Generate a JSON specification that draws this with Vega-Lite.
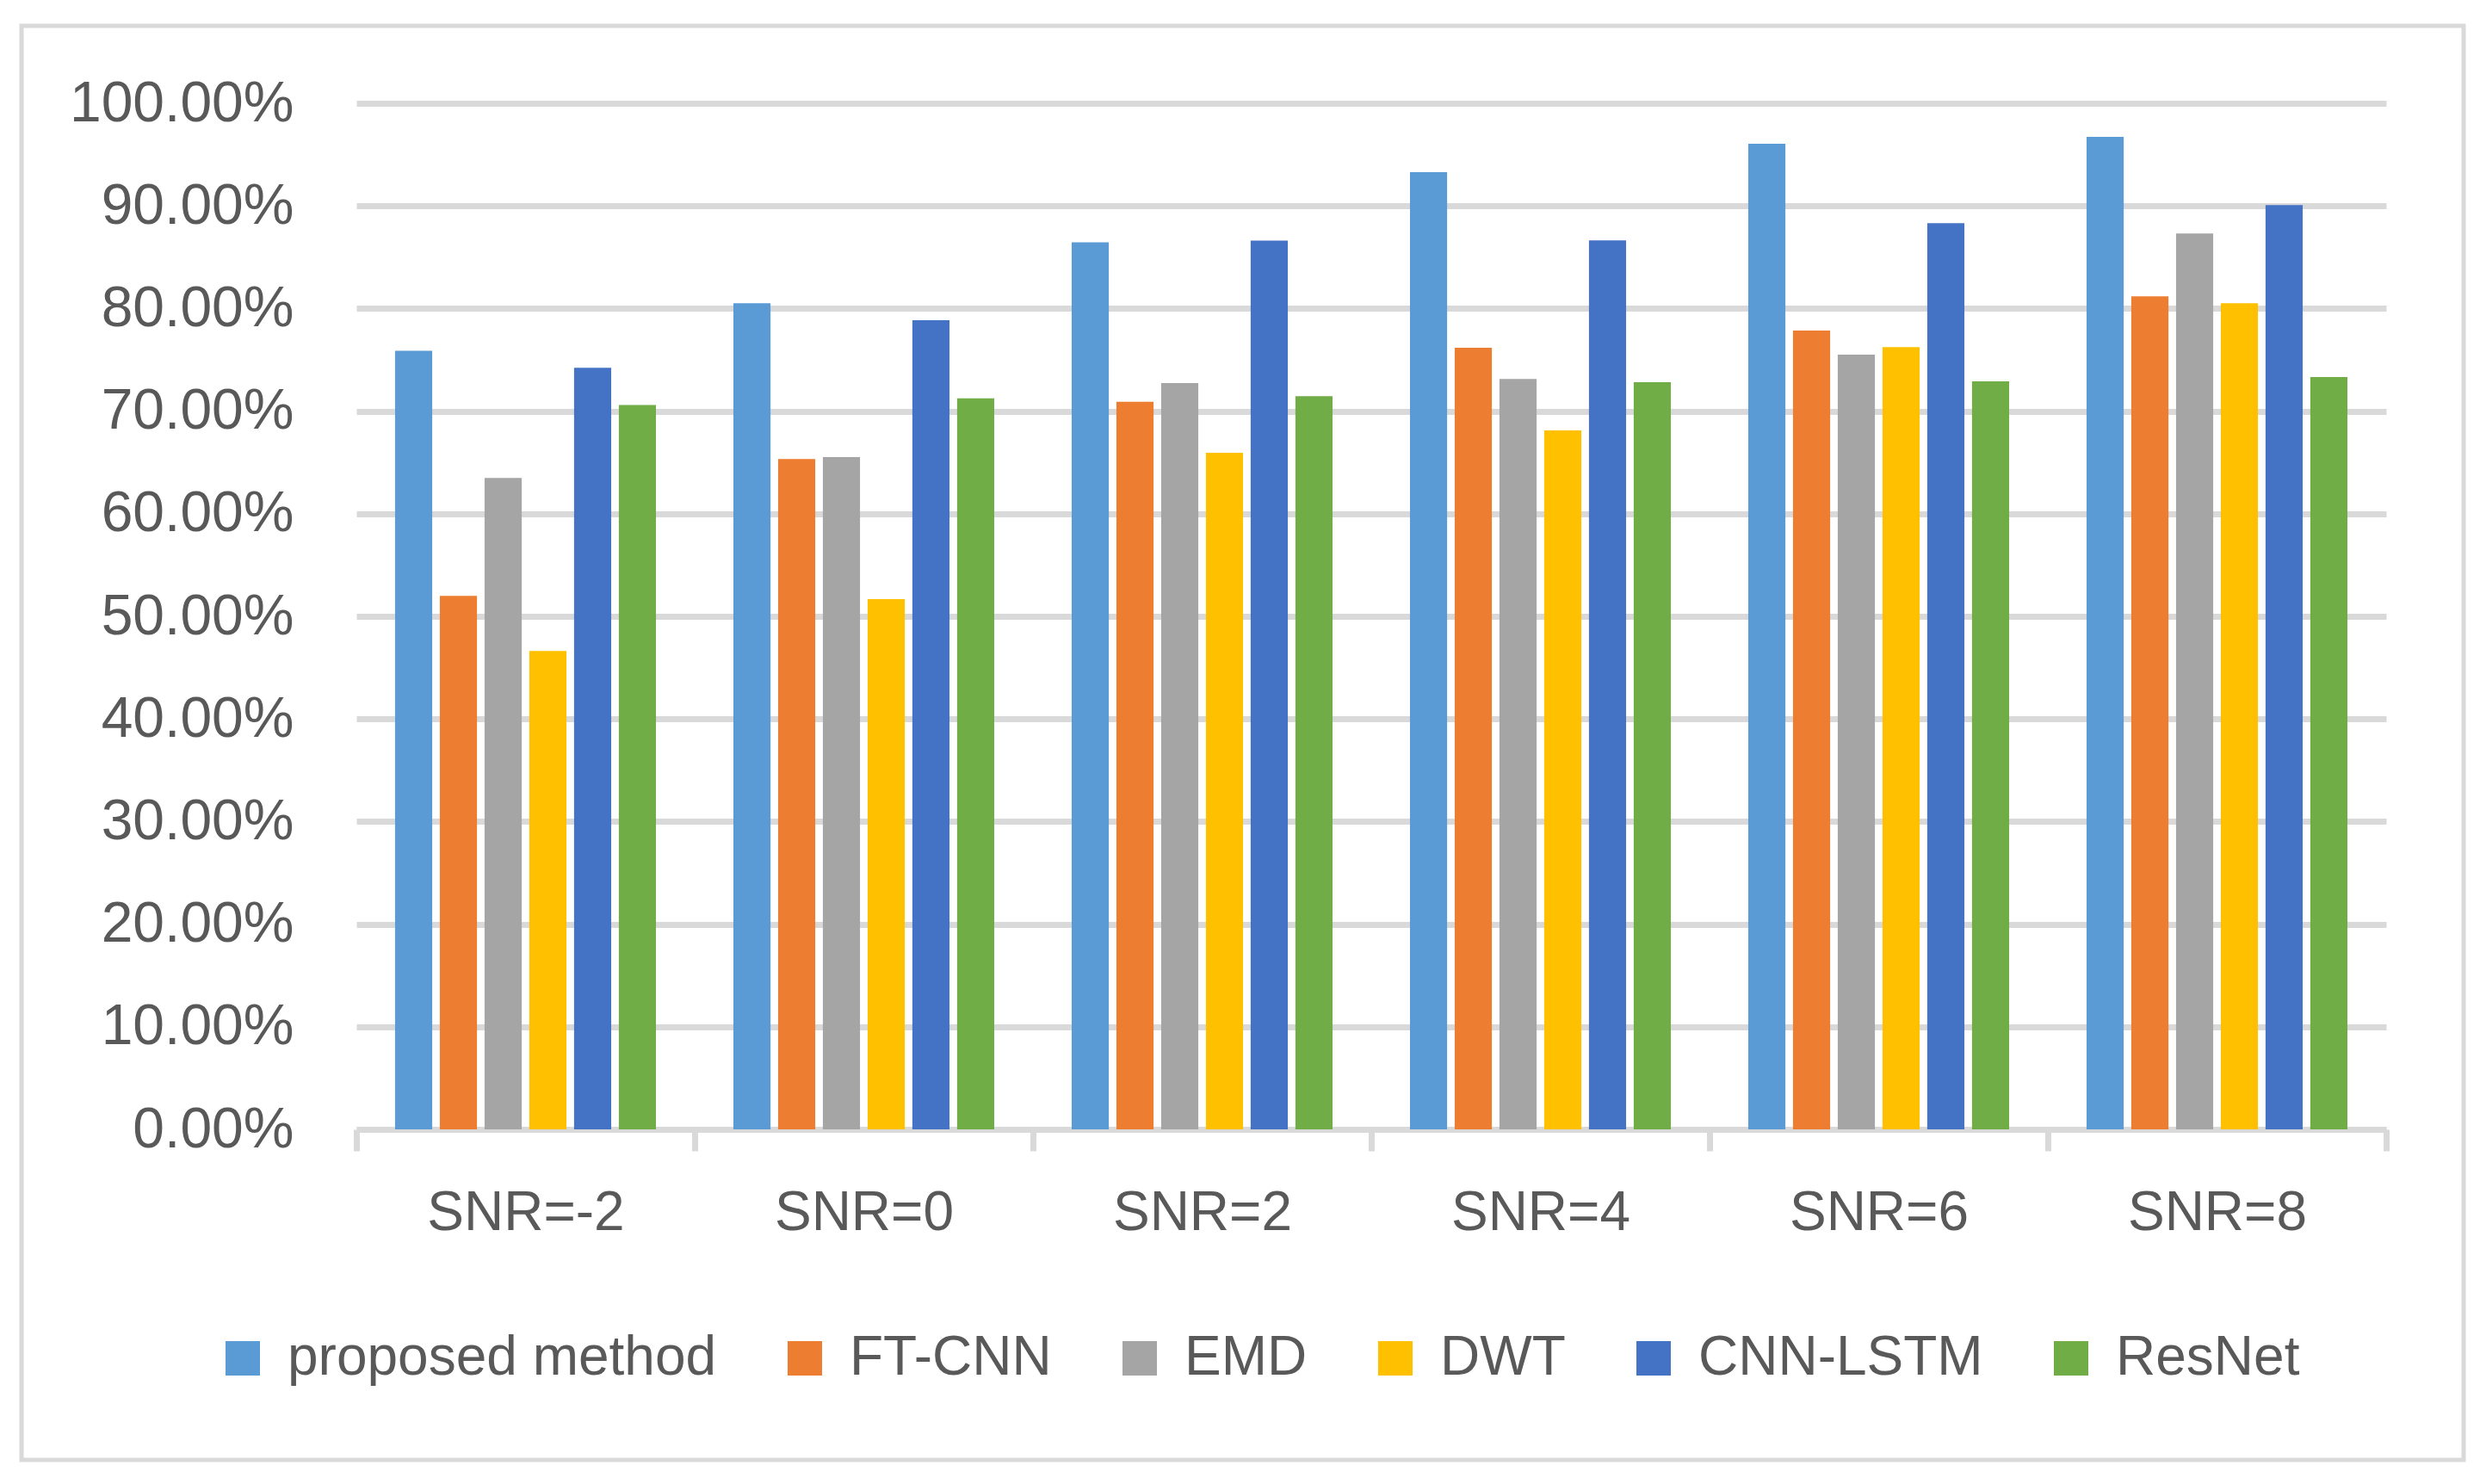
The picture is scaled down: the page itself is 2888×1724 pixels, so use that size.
{
  "$schema": "https://vega.github.io/schema/vega-lite/v6.json",
  "autosize": {"type": "none"},
  "padding": {"left": 25, "top": 30, "right": 26, "bottom": 28},
  "width": 2837,
  "height": 1666,
  "background": "white",
  "config": {
    "view": {"stroke": "#D9D9D9", "strokeWidth": 5},
    "font": "Liberation Sans"
  },
  "data": {
    "values": [
      {"snr": "SNR=-2", "method": "proposed method", "acc": 0.7588},
      {"snr": "SNR=-2", "method": "FT-CNN", "acc": 0.5200},
      {"snr": "SNR=-2", "method": "EMD", "acc": 0.6348},
      {"snr": "SNR=-2", "method": "DWT", "acc": 0.4662},
      {"snr": "SNR=-2", "method": "CNN-LSTM", "acc": 0.7423},
      {"snr": "SNR=-2", "method": "ResNet", "acc": 0.7060},
      {"snr": "SNR=0", "method": "proposed method", "acc": 0.8051},
      {"snr": "SNR=0", "method": "FT-CNN", "acc": 0.6534},
      {"snr": "SNR=0", "method": "EMD", "acc": 0.6551},
      {"snr": "SNR=0", "method": "DWT", "acc": 0.5167},
      {"snr": "SNR=0", "method": "CNN-LSTM", "acc": 0.7885},
      {"snr": "SNR=0", "method": "ResNet", "acc": 0.7124},
      {"snr": "SNR=2", "method": "proposed method", "acc": 0.8645},
      {"snr": "SNR=2", "method": "FT-CNN", "acc": 0.7090},
      {"snr": "SNR=2", "method": "EMD", "acc": 0.7274},
      {"snr": "SNR=2", "method": "DWT", "acc": 0.6594},
      {"snr": "SNR=2", "method": "CNN-LSTM", "acc": 0.8662},
      {"snr": "SNR=2", "method": "ResNet", "acc": 0.7145},
      {"snr": "SNR=4", "method": "proposed method", "acc": 0.9329},
      {"snr": "SNR=4", "method": "FT-CNN", "acc": 0.7618},
      {"snr": "SNR=4", "method": "EMD", "acc": 0.7313},
      {"snr": "SNR=4", "method": "DWT", "acc": 0.6812},
      {"snr": "SNR=4", "method": "CNN-LSTM", "acc": 0.8665},
      {"snr": "SNR=4", "method": "ResNet", "acc": 0.7281},
      {"snr": "SNR=6", "method": "proposed method", "acc": 0.9605},
      {"snr": "SNR=6", "method": "FT-CNN", "acc": 0.7785},
      {"snr": "SNR=6", "method": "EMD", "acc": 0.7551},
      {"snr": "SNR=6", "method": "DWT", "acc": 0.7624},
      {"snr": "SNR=6", "method": "CNN-LSTM", "acc": 0.8831},
      {"snr": "SNR=6", "method": "ResNet", "acc": 0.7291},
      {"snr": "SNR=8", "method": "proposed method", "acc": 0.9673},
      {"snr": "SNR=8", "method": "FT-CNN", "acc": 0.8119},
      {"snr": "SNR=8", "method": "EMD", "acc": 0.8732},
      {"snr": "SNR=8", "method": "DWT", "acc": 0.8051},
      {"snr": "SNR=8", "method": "CNN-LSTM", "acc": 0.9008},
      {"snr": "SNR=8", "method": "ResNet", "acc": 0.7332}
    ]
  },
  "mark": {"type": "bar"},
  "encoding": {
    "x": {
      "field": "snr",
      "type": "nominal",
      "sort": ["SNR=-2", "SNR=0", "SNR=2", "SNR=4", "SNR=6", "SNR=8"],
      "scale": {"range": [389, 2747], "paddingInner": 0, "paddingOuter": 0},
      "axis": {
        "title": null,
        "offset": -384,
        "labelAngle": 0,
        "domainColor": "#D9D9D9",
        "domainWidth": 7,
        "tickColor": "#D9D9D9",
        "tickWidth": 7,
        "tickSize": 25,
        "tickBand": "extent",
        "labelPadding": 40,
        "labelFontSize": 64,
        "labelColor": "#595959",
        "labelFont": "Liberation Sans",
        "labelLimit": 1000,
        "grid": false
      }
    },
    "xOffset": {
      "field": "method",
      "type": "nominal",
      "sort": ["proposed method", "FT-CNN", "EMD", "DWT", "CNN-LSTM", "ResNet"],
      "scale": {"paddingInner": 0.17, "paddingOuter": 0.865}
    },
    "y": {
      "field": "acc",
      "type": "quantitative",
      "scale": {"domain": [0, 1], "range": [1282, 90], "nice": false},
      "axis": {
        "title": null,
        "offset": -389,
        "values": [0, 0.1, 0.2, 0.3, 0.4, 0.5, 0.6, 0.7, 0.8, 0.9, 1],
        "format": ".2%",
        "domain": false,
        "ticks": false,
        "grid": true,
        "gridColor": "#D9D9D9",
        "gridWidth": 7,
        "labelPadding": 73,
        "labelFontSize": 66,
        "labelColor": "#595959",
        "labelFont": "Liberation Sans",
        "labelLimit": 1000
      }
    },
    "color": {
      "field": "method",
      "type": "nominal",
      "sort": ["proposed method", "FT-CNN", "EMD", "DWT", "CNN-LSTM", "ResNet"],
      "scale": {
        "domain": ["proposed method", "FT-CNN", "EMD", "DWT", "CNN-LSTM", "ResNet"],
        "range": ["#5B9BD5", "#ED7D31", "#A5A5A5", "#FFC000", "#4472C4", "#70AD47"]
      },
      "legend": {
        "title": null,
        "orient": "none",
        "direction": "horizontal",
        "legendX": 225,
        "legendY": 1516,
        "padding": 0,
        "symbolType": "square",
        "symbolSize": 1600,
        "symbolStrokeWidth": 0,
        "labelOffset": 20,
        "columnPadding": 70,
        "labelFontSize": 64,
        "labelColor": "#595959",
        "labelFont": "Liberation Sans",
        "labelLimit": 1000
      }
    }
  }
}
